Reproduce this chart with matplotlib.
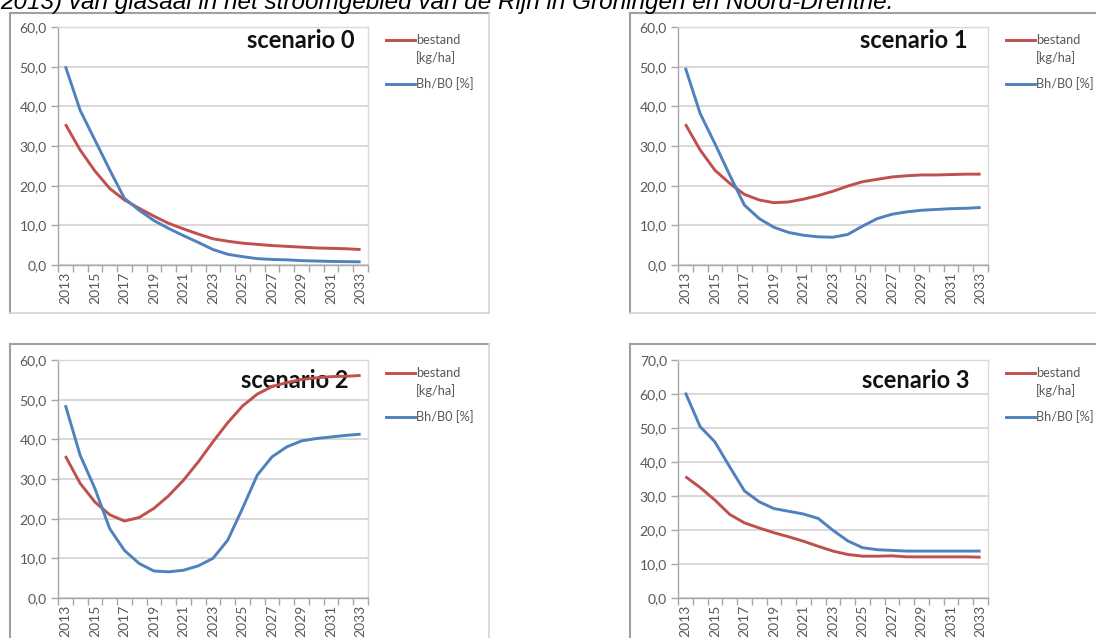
import matplotlib
matplotlib.use("Agg")
import matplotlib.pyplot as plt
from matplotlib.lines import Line2D
import numpy as np

years = list(range(2013, 2034))
year_labels = [str(y) if (y - 2013) % 2 == 0 else "" for y in years]

titles = ["scenario 0", "scenario 1", "scenario 2", "scenario 3"]
series_names = ["bestand\n[kg/ha]", "Bh/B0 [%]"]

s0_bestand = [35.5, 29.0, 23.7, 19.3, 16.4, 14.3, 12.3, 10.5, 9.1, 7.8, 6.6, 6.0, 5.5, 5.2, 4.9, 4.7, 4.5, 4.3, 4.2, 4.1, 3.9]
s0_bhb0 = [50.1, 39.0, 31.5, 24.0, 16.8, 13.8, 11.2, 9.2, 7.4, 5.7, 3.9, 2.7, 2.1, 1.6, 1.4, 1.3, 1.1, 1.0, 0.9, 0.85, 0.8]

s1_bestand = [35.5, 29.0, 23.9, 20.6, 17.8, 16.4, 15.7, 15.9, 16.6, 17.5, 18.6, 19.9, 21.0, 21.6, 22.2, 22.5, 22.7, 22.7, 22.8, 22.9, 22.9]
s1_bhb0 = [49.7, 38.2, 30.6, 22.7, 15.1, 11.7, 9.5, 8.2, 7.5, 7.1, 7.0, 7.7, 9.8, 11.7, 12.8, 13.4, 13.8, 14.0, 14.2, 14.3, 14.5]

s2_bestand = [35.8, 28.9, 24.2, 21.0, 19.4, 20.3, 22.6, 25.8, 29.7, 34.3, 39.4, 44.2, 48.4, 51.4, 53.3, 54.3, 55.1, 55.5, 55.8, 55.9, 56.1]
s2_bhb0 = [48.6, 36.0, 27.6, 17.5, 12.0, 8.7, 6.8, 6.6, 7.0, 8.1, 10.0, 14.6, 22.6, 31.0, 35.6, 38.1, 39.6, 40.2, 40.6, 41.0, 41.3]

s3_bestand = [35.7, 32.5, 28.8, 24.6, 22.1, 20.6, 19.2, 18.0, 16.7, 15.2, 13.8, 12.8, 12.3, 12.3, 12.4, 12.1, 12.1, 12.1, 12.1, 12.1, 12.0]
s3_bhb0 = [60.4, 50.4, 45.9, 38.6, 31.5, 28.3, 26.3, 25.5, 24.7, 23.4, 19.9, 16.8, 14.8, 14.2, 14.0, 13.8, 13.8, 13.8, 13.8, 13.8, 13.8]

y_max = [60, 60, 60, 70]

caption = "2013) van glasaal in het stroomgebied van de Rijn in Groningen en Noord-Drenthe."

RED = "#C0504D"
BLUE = "#4F81BD"
GRID = "#D9D9D9"
TXT = "#595959"
FONT = "Lato"

W, H = 1096, 638
fig = plt.figure(figsize=(W / 100, H / 100), dpi=100)
fig.patch.set_facecolor("white")


def fx(px):
    return px / W


def fy(py):
    return 1 - py / H


panels = [
    dict(plot=(58, 27, 368, 265), frame=(10, 13, 489, 313), title_x=355, title_y=40, leg=(386, 40)),
    dict(plot=(678, 27, 988, 265), frame=(630, 13, 1110, 313), title_x=968, title_y=40, leg=(1006, 40)),
    dict(plot=(58, 360, 368, 598), frame=(10, 344, 489, 660), title_x=349, title_y=381, leg=(386, 373)),
    dict(plot=(678, 360, 988, 598), frame=(630, 344, 1110, 660), title_x=969, title_y=381, leg=(1006, 373)),
]
data = [(s0_bestand, s0_bhb0), (s1_bestand, s1_bhb0), (s2_bestand, s2_bhb0), (s3_bestand, s3_bhb0)]

for i, p in enumerate(panels):
    l, t, r, b = p["frame"]
    fig.add_artist(Line2D([fx(l), fx(l)], [fy(t), fy(b)], color="#A0A0A0", lw=1.5))
    fig.add_artist(Line2D([fx(l), fx(r)], [fy(t), fy(t)], color="#A0A0A0", lw=1.5))
    fig.add_artist(Line2D([fx(r), fx(r)], [fy(t), fy(b)], color="#D4D4D4", lw=1.2))
    fig.add_artist(Line2D([fx(l), fx(r)], [fy(b), fy(b)], color="#D4D4D4", lw=1.2))

    pl, pt, pr, pb = p["plot"]
    ax = fig.add_axes([fx(pl), fy(pb), fx(pr) - fx(pl), fy(pt) - fy(pb)])
    xs = np.arange(len(years)) + 0.5
    bst, bh = data[i]
    ax.plot(xs, bst, color=RED, lw=2.1, zorder=4, solid_capstyle="butt")
    ax.plot(xs, bh, color=BLUE, lw=2.1, zorder=4, solid_capstyle="butt")
    ax.set_xlim(0, len(years))
    ax.set_ylim(0, y_max[i])
    yt = np.arange(0, y_max[i] + 1, 10)
    ax.set_yticks(yt)
    ax.set_yticklabels([f"{v:.1f}".replace(".", ",") for v in yt],
                       fontsize=10, color=TXT, fontfamily=FONT)
    ax.set_xticks(np.arange(0, len(years) + 1))
    ax.set_xticklabels([])
    ax.set_xticks(xs, minor=True)
    ax.set_xticklabels(year_labels, minor=True, rotation=90, fontsize=10, color=TXT, fontfamily=FONT)
    ax.tick_params(axis="x", which="major", length=5, width=1, color="#A6A6A6", direction="out")
    ax.tick_params(axis="x", which="minor", length=0, pad=5)
    ax.tick_params(axis="y", length=5, width=1, color="#A6A6A6", pad=3)
    ax.grid(axis="y", color=GRID, lw=1.5, zorder=1)
    ax.set_axisbelow(True)
    for side in ["top", "right"]:
        ax.spines[side].set_color("#D9D9D9")
        ax.spines[side].set_linewidth(1.0)
    for side in ["left", "bottom"]:
        ax.spines[side].set_color("#A6A6A6")
        ax.spines[side].set_linewidth(1.0)

    ax.text((p["title_x"] - pl) / (pr - pl), (pb - p["title_y"]) / (pb - pt),
            titles[i], transform=ax.transAxes, ha="right", va="center", fontsize=17,
            fontweight="bold", fontfamily=FONT, color="#111111", zorder=2)

    lx, ly = p["leg"]
    fig.add_artist(Line2D([fx(lx), fx(lx + 29)], [fy(ly), fy(ly)], color=RED, lw=2.1))
    fig.text(fx(lx + 30), fy(ly), series_names[0].split("\n")[0], fontsize=9.2, color=TXT,
             fontfamily=FONT, va="center", ha="left")
    fig.text(fx(lx + 30), fy(ly + 18), series_names[0].split("\n")[1], fontsize=9.2, color=TXT,
             fontfamily=FONT, va="center", ha="left")
    fig.add_artist(Line2D([fx(lx), fx(lx + 29)], [fy(ly + 44), fy(ly + 44)], color=BLUE, lw=2.1))
    fig.text(fx(lx + 30), fy(ly + 44), series_names[1], fontsize=9.2, color=TXT,
             fontfamily=FONT, va="center", ha="left")

fig.text(0.0, fy(9), caption, fontsize=17.5, style="italic", fontfamily="Liberation Sans",
         color="black", ha="left", va="baseline")

fig.savefig("out.png", dpi=100)
